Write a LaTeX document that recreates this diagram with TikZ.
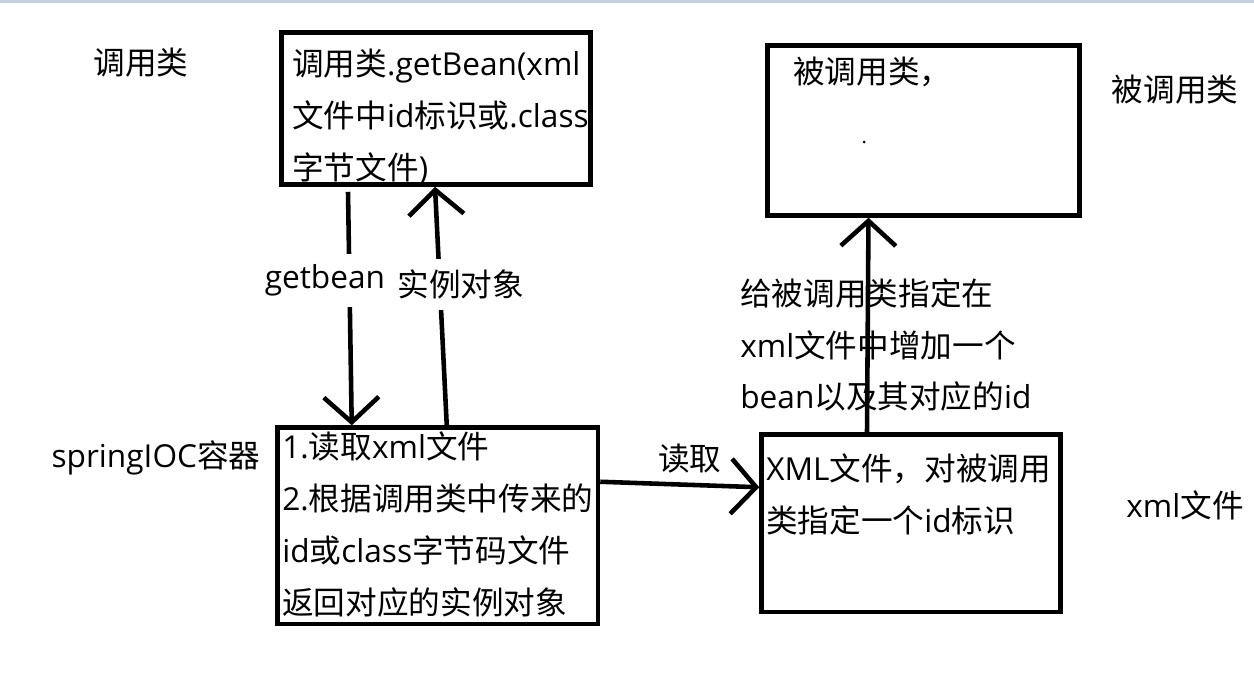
\documentclass[tikz,border=0pt]{standalone}
\usepackage{fontspec}
\setmainfont{Open Sans}
\newfontfamily\cjk{Noto Sans CJK SC}
\usetikzlibrary{calc,arrows.meta}
\definecolor{topbar}{RGB}{197,207,224}
% han characters in the cjk font
\XeTeXinterchartokenstate=1
\newXeTeXintercharclass\hanclass
\newcount\hanchar
\hanchar="4E00
\loop
  \XeTeXcharclass\hanchar=\hanclass
  \ifnum\hanchar<"9FFF \advance\hanchar by 1
\repeat
\XeTeXcharclass"FF0C=\hanclass
\XeTeXinterchartoks 0 \hanclass = {\begingroup\cjk}
\XeTeXinterchartoks 4095 \hanclass = {\begingroup\cjk}
\XeTeXinterchartoks \hanclass 0 = {\endgroup}
\XeTeXinterchartoks \hanclass 4095 = {\endgroup}

\begin{document}
\begin{tikzpicture}[x=0.02cm,y=-0.02cm,font=\fontsize{18}{29.5}\selectfont,
    box/.style={draw,line width=2.6pt,rectangle,inner sep=0pt},
    txt/.style={align=left,anchor=west,inner sep=0pt},
    arr/.style={line width=2.6pt,-{Straight Barb[length=0.5cm,width=1.1cm]}},
    gap/.style={fill=white,inner xsep=0.1cm,inner ysep=0.22cm}]
      \useasboundingbox (0,0) rectangle (1254,684);
      \fill[topbar] (0,0) rectangle (1254,3);

      %side labels
      \node (lcall) at (141,63) {调用类};
      \node (lcalled) at (1175,90) {被调用类};
      \node (lioc) at (156,458) {springIOC容器};
      \node (lxml) at (1185,505) {xml文件};

      %boxes
      \node[box,minimum width=6.18cm,minimum height=3.04cm] (call) at (436,108.5) {};
      \node[box,minimum width=6.24cm,minimum height=3.4cm] (called) at (923.5,130.5) {};
      \node[box,minimum width=6.41cm,minimum height=3.93cm] (ioc) at (437.75,525.75) {};
      \node[box,minimum width=5.98cm,minimum height=3.55cm] (xml) at (911,523.25) {};

      %box texts
      \node[txt] (calltext) at (292,117) {调用类.getBean(xml\\文件中id标识或.class\\字节文件)};
      \node[txt] (calledtext) at (793,72) {被调用类，};
      \fill (864,142) circle (0.03cm);
      \node[txt] (ioctext) at (282,524.5) {1.读取xml文件\\2.根据调用类中传来的\\id或class字节码文件\\返回对应的实例对象};
      \node[txt] (xmltext) at (766,494) {XML文件，对被调用\\类指定一个id标识};

      %getbean / instance
      \draw[arr] ($(call.south)+(-88,5)$) -- node[gap,pos=0.38,xshift=-0.49cm] (getbean) {getbean} ($(ioc.north)+(-86,0)$);
      \draw[arr] ($(ioc.north)+(9,0)$) -- node[gap,pos=0.59,xshift=0.42cm] (inst) {实例对象} ($(call.south)+(-1,0)$);

      %read xml
      \draw[arr] ($(ioc.east)+(0,-44)$) -- node[midway,above=0.07cm,xshift=0.2cm] (read) {读取} ($(xml.west)+(0,-36)$);

      %register bean
      \draw[arr] ($(xml.north)+(-44,0)$) -- ($(called.south)+(-55,0)$);
      \node[txt] (spec) at (740,345) {给被调用类指定在\\xml文件中增加一个\\bean以及其对应的id};
\end{tikzpicture}
\end{document}
